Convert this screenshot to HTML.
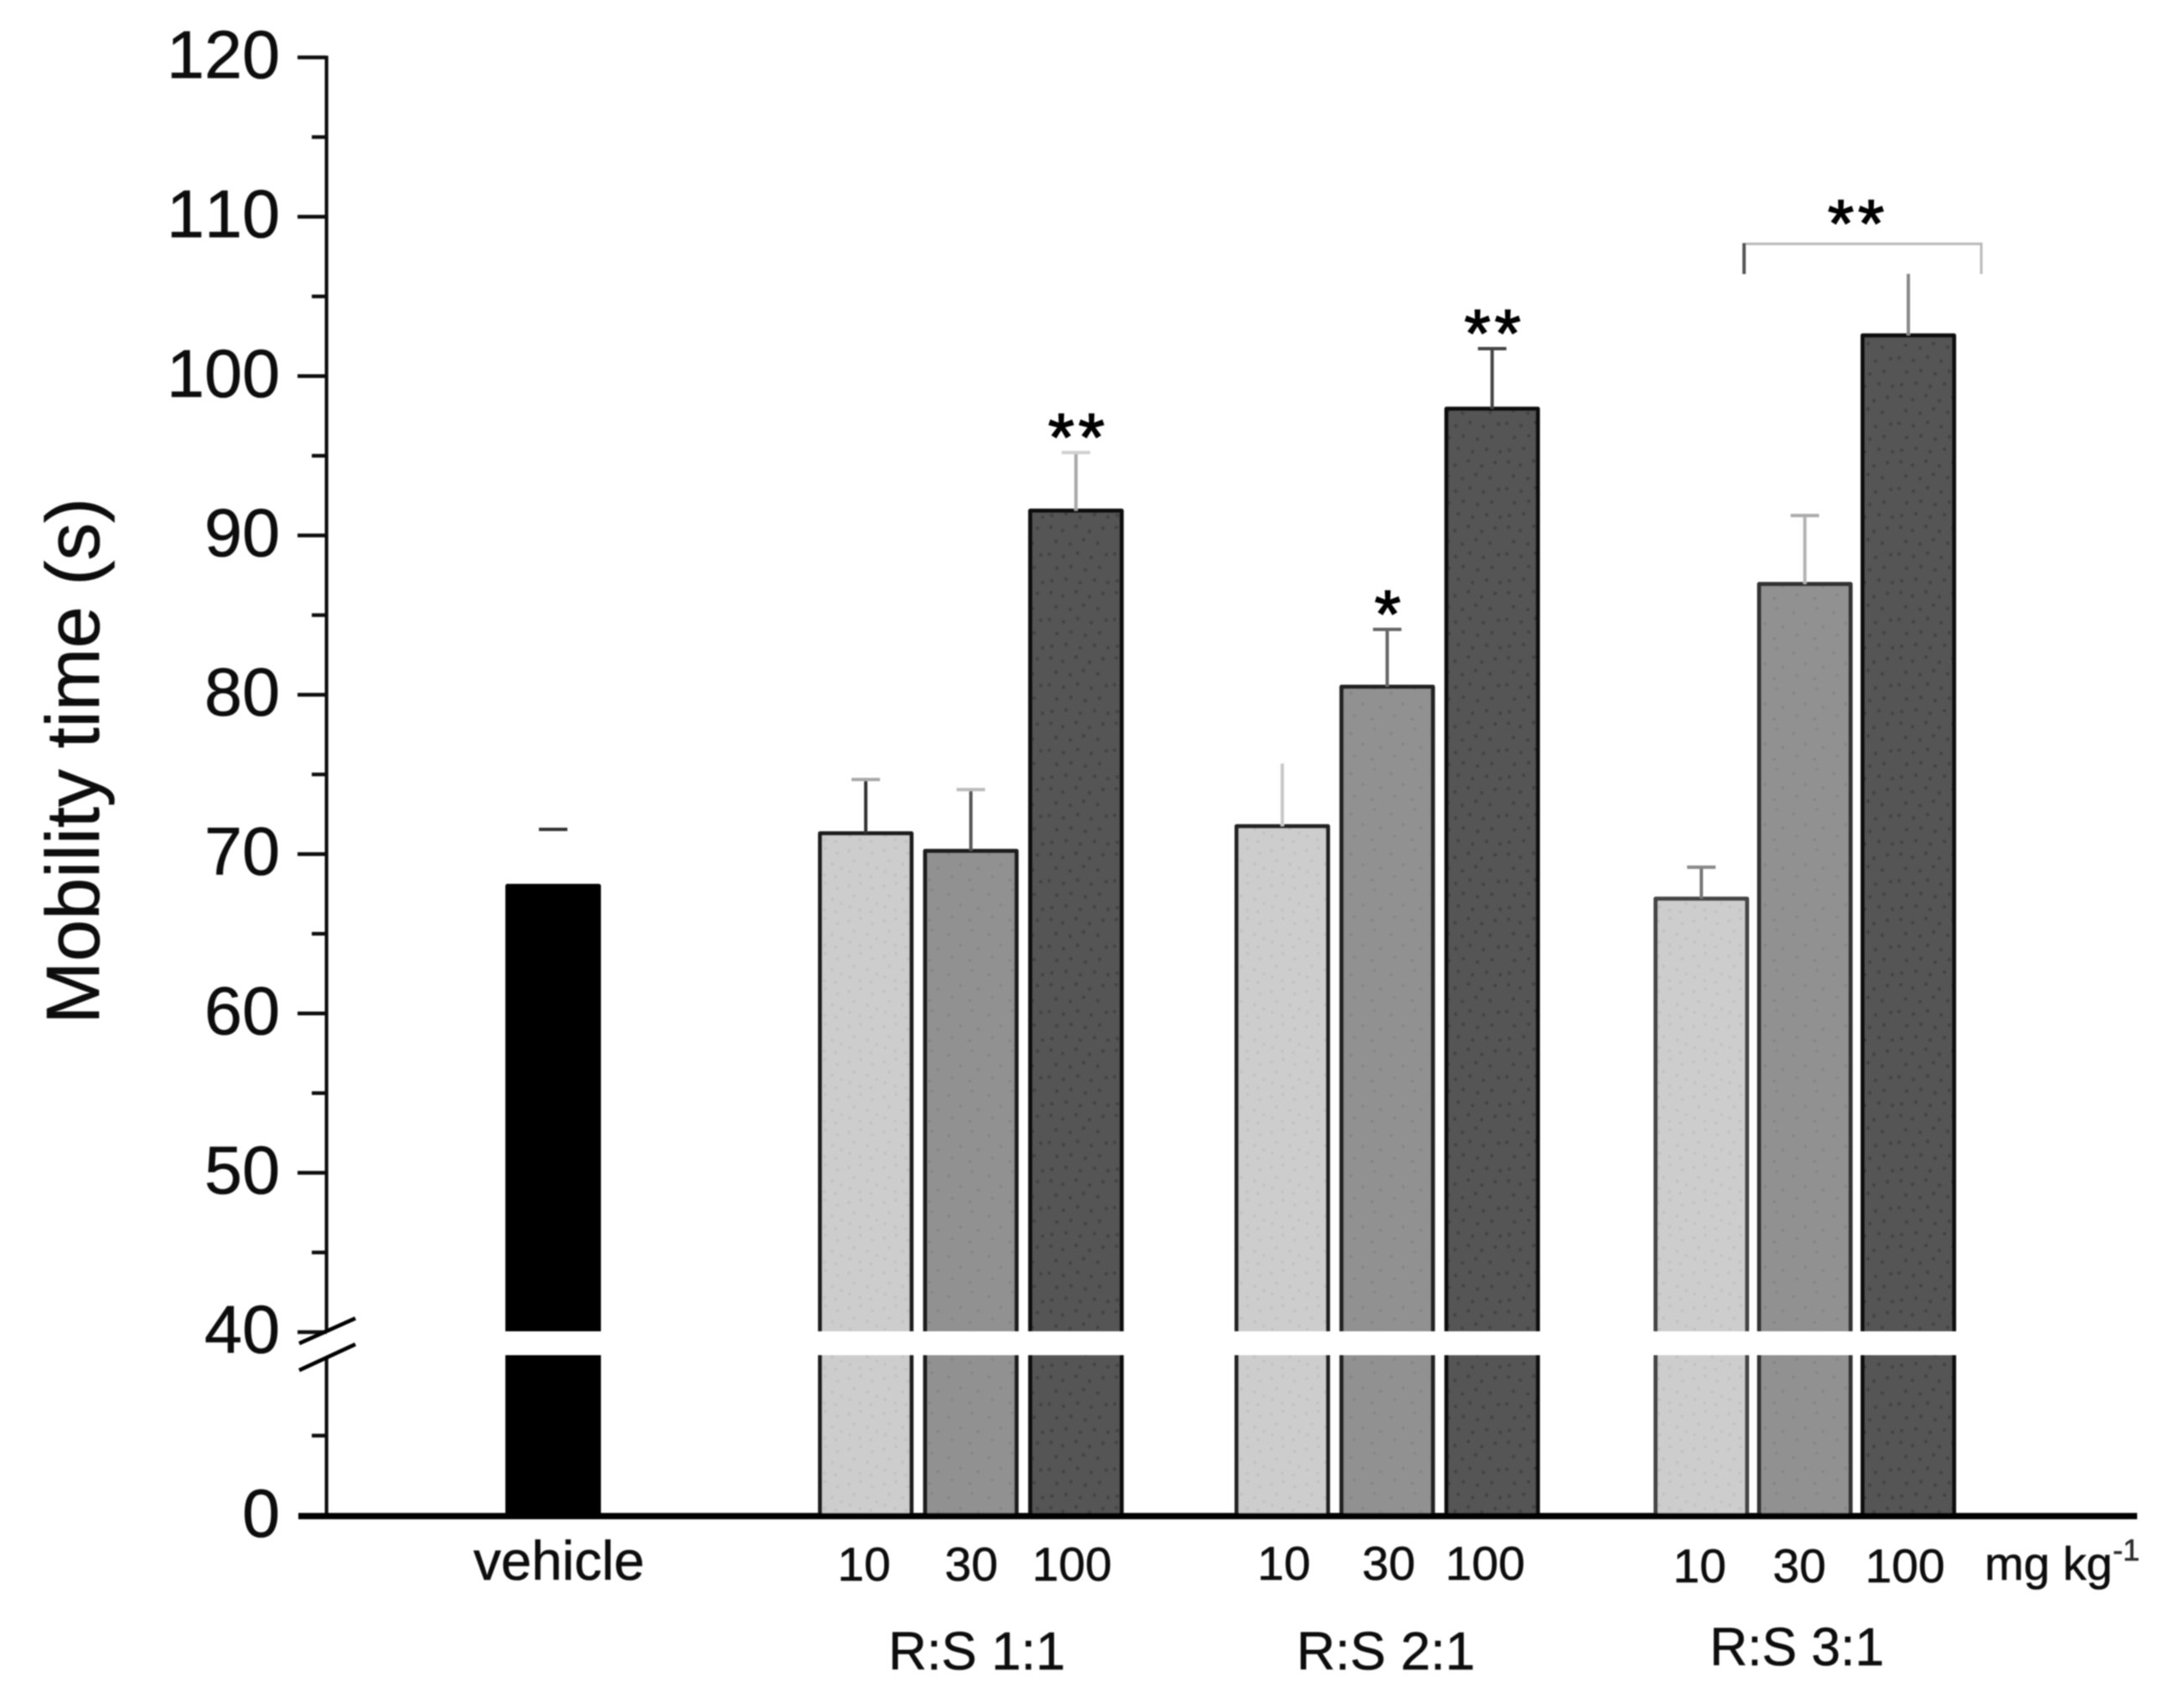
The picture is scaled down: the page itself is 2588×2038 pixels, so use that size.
<!DOCTYPE html>
<html lang="en">
<head>
<meta charset="utf-8">
<title>Mobility time chart</title>
<style>
html,body{margin:0;padding:0;background:#fff;}
svg{display:block;}
text{font-family:"Liberation Sans",Arial,sans-serif;fill:#111;font-kerning:none;stroke:#111;stroke-width:0.6px;}
.ytick{font-size:81px;text-anchor:end;}
.dose{font-size:57px;text-anchor:middle;}
.group{font-size:64px;}
.star{font-size:80px;text-anchor:middle;letter-spacing:5px;fill:#000;stroke:#000;stroke-width:1.6px;}
</style>
</head>
<body>
<svg id="chart" xmlns="http://www.w3.org/2000/svg" width="2588" height="2038" viewBox="0 0 2588 2038">
  <defs>
    <filter id="soft" x="-2%" y="-2%" width="104%" height="104%"><feGaussianBlur stdDeviation="0.9"/></filter>
    <pattern id="tex-light" patternUnits="userSpaceOnUse" width="42" height="42">
      <rect width="42" height="42" fill="#cdcdcd"/>
      <g fill="#c3c3c3">
        <circle cx="5" cy="7" r="2"/><circle cx="19" cy="4" r="2"/><circle cx="33" cy="10" r="2"/>
        <circle cx="11" cy="19" r="2"/><circle cx="27" cy="23" r="2"/><circle cx="38" cy="28" r="2"/>
        <circle cx="6" cy="32" r="2"/><circle cx="18" cy="36" r="2"/><circle cx="31" cy="38" r="2"/>
      </g>
    </pattern>
    <pattern id="tex-mid" patternUnits="userSpaceOnUse" width="48" height="48">
      <rect width="48" height="48" fill="#919191"/>
      <g fill="#888888">
        <circle cx="8" cy="6" r="2.2"/><circle cx="28" cy="11" r="2.2"/><circle cx="42" cy="24" r="2.2"/>
        <circle cx="15" cy="28" r="2.2"/><circle cx="32" cy="38" r="2.2"/><circle cx="5" cy="42" r="2.2"/>
      </g>
    </pattern>
    <pattern id="tex-dark" patternUnits="userSpaceOnUse" width="78" height="78">
      <rect width="78" height="78" fill="#555555"/>
      <g fill="#444444">
        <circle cx="6" cy="5" r="2.3"/><circle cx="20" cy="9" r="2.3"/><circle cx="36" cy="4" r="2.3"/><circle cx="52" cy="10" r="2.3"/><circle cx="68" cy="6" r="2.3"/>
        <circle cx="12" cy="22" r="2.3"/><circle cx="29" cy="25" r="2.3"/><circle cx="45" cy="20" r="2.3"/><circle cx="62" cy="24" r="2.3"/>
        <circle cx="4" cy="37" r="2.3"/><circle cx="21" cy="40" r="2.3"/><circle cx="38" cy="36" r="2.3"/><circle cx="54" cy="41" r="2.3"/><circle cx="72" cy="38" r="2.3"/>
        <circle cx="13" cy="54" r="2.3"/><circle cx="30" cy="52" r="2.3"/><circle cx="47" cy="56" r="2.3"/><circle cx="64" cy="53" r="2.3"/>
        <circle cx="7" cy="69" r="2.3"/><circle cx="24" cy="67" r="2.3"/><circle cx="41" cy="71" r="2.3"/><circle cx="58" cy="68" r="2.3"/><circle cx="74" cy="71" r="2.3"/>
      </g>
    </pattern>
  </defs>
  <rect x="0" y="0" width="2588" height="2038" fill="#ffffff"/>
  <g id="plot" filter="url(#soft)">
    <g id="bars"></g>
    <g id="errors"></g>
    <g id="axes"></g>
    <text transform="translate(118,1222) rotate(-90)" font-size="90" textLength="628" lengthAdjust="spacingAndGlyphs">Mobility time (s)</text>

    <text x="565" y="1885" font-size="66" textLength="204" lengthAdjust="spacingAndGlyphs">vehicle</text>

    <text class="dose" x="1031" y="1886">10</text>
    <text class="dose" x="1159" y="1886">30</text>
    <text class="dose" x="1279" y="1886">100</text>
    <text class="dose" x="1532" y="1885">10</text>
    <text class="dose" x="1657" y="1885">30</text>
    <text class="dose" x="1772" y="1885">100</text>
    <text class="dose" x="2028" y="1888">10</text>
    <text class="dose" x="2147" y="1888">30</text>
    <text class="dose" x="2273" y="1888">100</text>

    <text x="2368" y="1885" font-size="56">mg kg</text>
    <text x="2553" y="1862" font-size="36" text-anchor="end" fill-opacity="0.85">-1</text>

    <text class="group" x="1060" y="1992" textLength="211" lengthAdjust="spacingAndGlyphs">R:S 1:1</text>
    <text class="group" x="1547" y="1992" textLength="213" lengthAdjust="spacingAndGlyphs">R:S 2:1</text>
    <text class="group" x="2040" y="1987" textLength="208" lengthAdjust="spacingAndGlyphs">R:S 3:1</text>

    <g fill="none">
      <path d="M2082 291 H2364 V327" stroke="#b9b9b9" stroke-width="3"/>
      <path d="M2081 290 V327" stroke="#555" stroke-width="4"/>
    </g>
    <text class="star" x="2217" y="294">**</text>
    <g id="stars"></g>
  </g>
</svg>
<script>
// ---- chart data ----
const barNames = ['vehicle', 'rs11-10', 'rs11-30', 'rs11-100', 'rs21-10', 'rs21-30', 'rs21-100', 'rs31-10', 'rs31-30', 'rs31-100'];
const means = [68.0, 71.3, 70.2, 91.55, 71.75, 80.5, 97.95, 67.2, 86.95, 102.55];
const errors = [3.55, 3.38, 3.85, 3.65, 3.93, 3.6, 3.77, 1.98, 4.3, 3.87];
const significance = ['', '', '', '**', '', '*', '**', '', '', ''];
const upperMajorTicks = [40, 50, 60, 70, 80, 90, 100, 110, 120];
const upperMinorTicks = [45, 55, 65, 75, 85, 95, 105, 115];
const lowerMajorTicks = [0];
const lowerMinorTicks = [20];

// ---- styling ----
const barFills = ['#000000', 'url(#tex-light)', 'url(#tex-mid)', 'url(#tex-dark)', 'url(#tex-light)', 'url(#tex-mid)', 'url(#tex-dark)', 'url(#tex-light)', 'url(#tex-mid)', 'url(#tex-dark)'];
const barStrokes = ['#000000', '#1c1c1c', '#1c1c1c', '#111111', '#222222', '#222222', '#111111', '#444444', '#333333', '#111111'];
const stemColors = ['none', '#333333', '#555555', '#a8a8a8', '#c8c8c8', '#666666', '#444444', '#777777', '#b4b4b4', '#888888'];
const capColors = ['#333333', '#a8a8a8', '#bbbbbb', '#d0d0d0', 'none', '#666666', '#444444', '#888888', '#aaaaaa', 'none'];

// ---- scales ----
const NS = 'http://www.w3.org/2000/svg';
const UPPER_TOP_Y = 68.5, UPPER_BOTTOM_Y = 1589.5, LOWER_TOP_Y = 1617, BASE_Y = 1809;
const AXIS_X = 389.6, BAR_W = 114, BAR_SW = 5;

function yScale(v) {
  if (v >= 40) return UPPER_BOTTOM_Y - (v - 40) * (UPPER_BOTTOM_Y - UPPER_TOP_Y) / 80;
  return BASE_Y - v * (BASE_Y - LOWER_TOP_Y) / 40;
}
function barLeft(i) {
  if (i === 0) return 603;
  const g = Math.floor((i - 1) / 3), d = (i - 1) % 3;
  return [976, 1473, 1973][g] + d * [125.4, 125.2, 123.5][g];
}
function make(tag, attrs, parent) {
  const n = document.createElementNS(NS, tag);
  for (const k in attrs) n.setAttribute(k, attrs[k]);
  parent.appendChild(n);
  return n;
}

const barsG = document.getElementById('bars');
const errG = document.getElementById('errors');
const axesG = document.getElementById('axes');
const starsG = document.getElementById('stars');

// ---- error bars (behind bar tops) ----
means.forEach(function (m, i) {
  const cx = barLeft(i) + BAR_W / 2;
  const yTop = yScale(m + errors[i]);
  const yBase = yScale(m);
  const stem = make('line', {x1: cx, x2: cx, y1: yTop, y2: yBase, stroke: stemColors[i], 'stroke-width': 4}, errG);
  
  
  const cap = make('line', {x1: cx - 17, x2: cx + 17, y1: yTop, y2: yTop, stroke: capColors[i], 'stroke-width': 4}, errG);
  
  
  if (significance[i]) {
    const star = make('text', {'class': 'star', x: cx + 3, y: yTop + 9}, starsG);
    star.textContent = significance[i];
    
    
  }
});

// ---- bars (two pieces either side of the axis break) ----
means.forEach(function (m, i) {
  const left = barLeft(i) + BAR_SW / 2;
  const right = barLeft(i) + BAR_W - BAR_SW / 2;
  const top = yScale(m);
  const g = make('g', {}, barsG);
  
  
  const upperFill = make('rect', {x: left, y: top, width: right - left, height: UPPER_BOTTOM_Y - top - 1, fill: barFills[i]}, g);
  
  
  const upperEdge = make('path', {d: 'M' + left + ' ' + (UPPER_BOTTOM_Y - 1) + ' V' + top + ' H' + right + ' V' + (UPPER_BOTTOM_Y - 1), fill: 'none', stroke: barStrokes[i], 'stroke-width': BAR_SW, 'stroke-linejoin': 'round'}, g);
  
  
  const lowerFill = make('rect', {x: left, y: LOWER_TOP_Y, width: right - left, height: BASE_Y - LOWER_TOP_Y, fill: barFills[i]}, g);
  
  
  const lowerEdge = make('path', {d: 'M' + left + ' ' + LOWER_TOP_Y + ' V' + BASE_Y + ' M' + right + ' ' + LOWER_TOP_Y + ' V' + BASE_Y, fill: 'none', stroke: barStrokes[i], 'stroke-width': BAR_SW}, g);
  
  
});

// ---- axes ----
const yUpper = make('line', {x1: AXIS_X, x2: AXIS_X, y1: UPPER_TOP_Y - 2, y2: UPPER_BOTTOM_Y - 2, stroke: '#111', 'stroke-width': 4.2}, axesG);


const yLower = make('line', {x1: AXIS_X, x2: AXIS_X, y1: LOWER_TOP_Y + 4, y2: BASE_Y, stroke: '#111', 'stroke-width': 4.2}, axesG);


const xAxis = make('line', {x1: 356, x2: 2550, y1: BASE_Y, y2: BASE_Y, stroke: '#000', 'stroke-width': 7.5}, axesG);



upperMajorTicks.concat(lowerMajorTicks).forEach(function (v) {
  const y = yScale(v);
  if (v !== 0) {
    const t = make('line', {x1: 355, x2: AXIS_X, y1: y, y2: y, stroke: '#111', 'stroke-width': 4.4}, axesG);
    
    
  }
  const label = make('text', {'class': 'ytick', x: 334, y: y + 24.5}, axesG);
  label.textContent = String(v);
  
  
});
upperMinorTicks.concat(lowerMinorTicks).forEach(function (v) {
  const y = yScale(v);
  const t = make('line', {x1: 372, x2: AXIS_X, y1: y, y2: y, stroke: '#111', 'stroke-width': 4.4}, axesG);
  
  
});

const breakUpper = make('line', {x1: 357, y1: 1603, x2: 424, y2: 1573, stroke: '#000', 'stroke-width': 4.6}, axesG);


const breakLower = make('line', {x1: 357, y1: 1635, x2: 424, y2: 1604, stroke: '#000', 'stroke-width': 4.6}, axesG);


</script>
</body>
</html>
